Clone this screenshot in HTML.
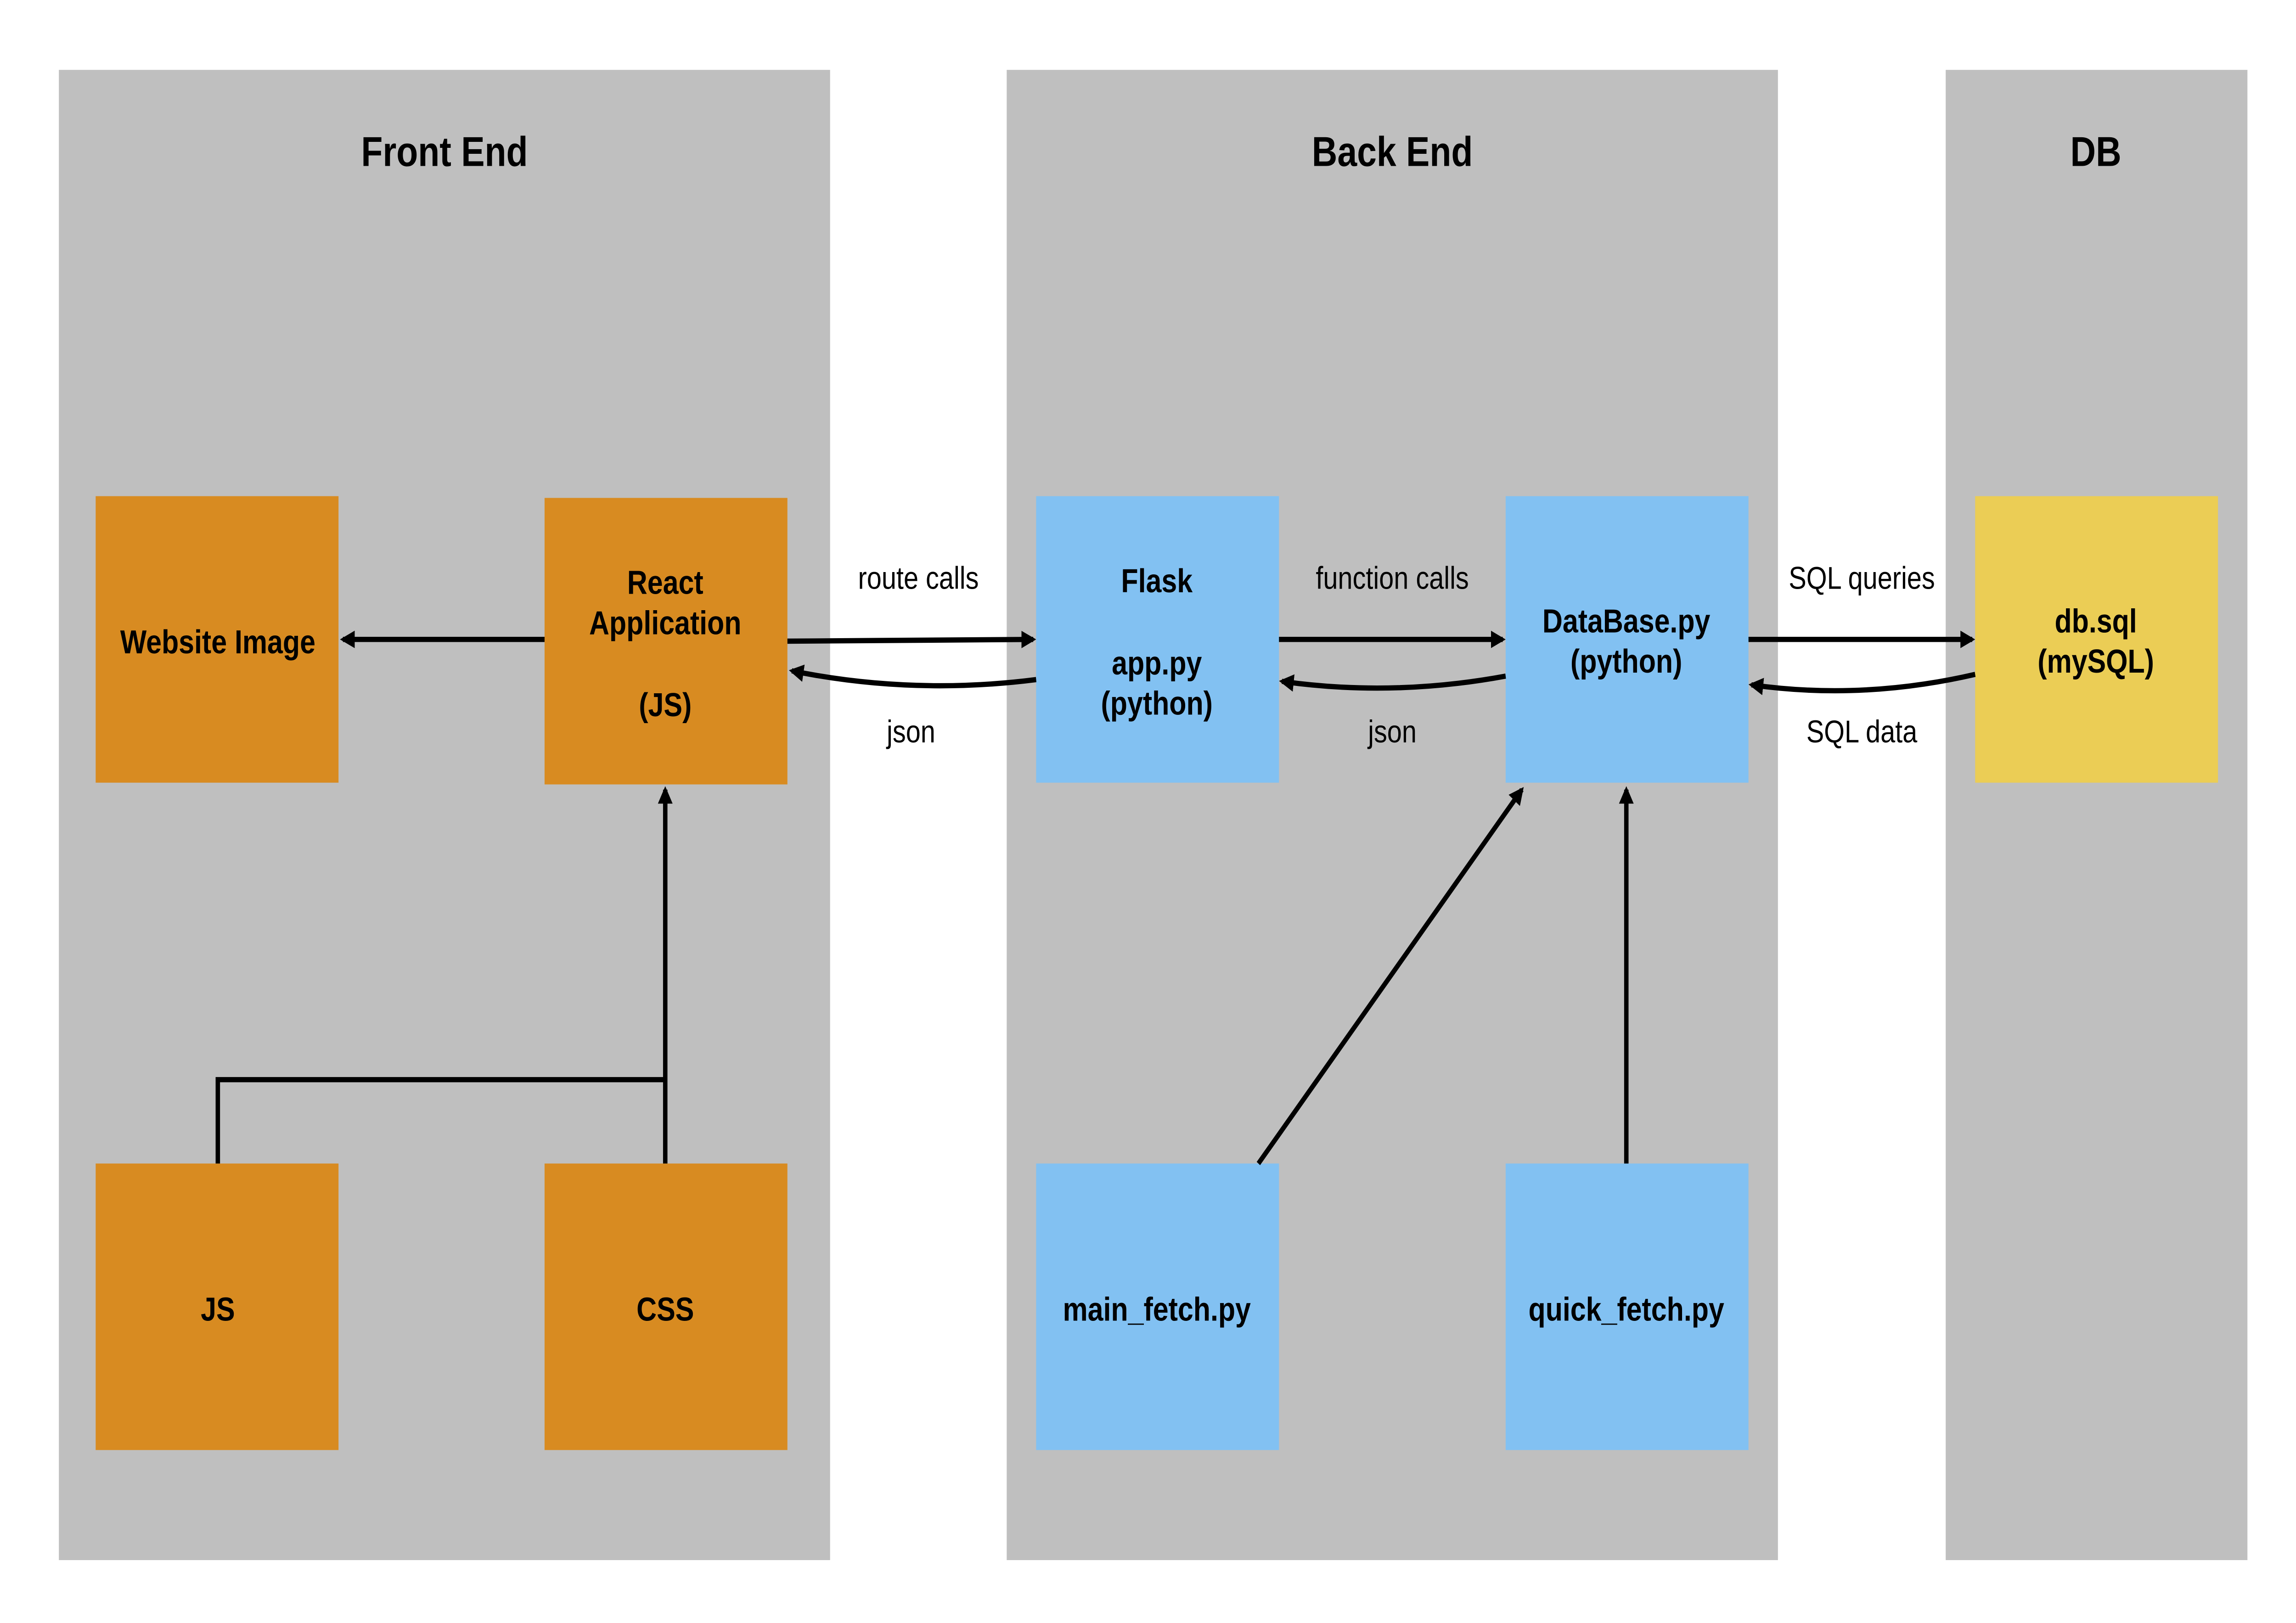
<!DOCTYPE html>
<html><head><meta charset="utf-8"><style>html,body{margin:0;padding:0;background:#fff;width:100%;height:100%;overflow:hidden}svg{display:block;position:fixed;left:0;top:0;width:100vw;height:100vh}</style></head>
<body>
<svg viewBox="0 0 1560 929" preserveAspectRatio="none" xmlns="http://www.w3.org/2000/svg" font-family="Liberation Sans, sans-serif">
<defs><marker id="a" markerWidth="10" markerHeight="10" refX="8" refY="5" orient="auto" markerUnits="userSpaceOnUse"><path d="M0,0 L10,5 L0,10 z" fill="#000"/></marker></defs>
<rect width="1560" height="929" fill="#fff"/>
<rect x="40" y="40" width="524" height="853" fill="#bfbfbf"/>
<rect x="684" y="40" width="524" height="853" fill="#bfbfbf"/>
<rect x="1322" y="40" width="205" height="853" fill="#bfbfbf"/>
<g font-weight="bold" font-size="24" text-anchor="middle">
<text x="302" y="95">Front End</text><text x="946" y="95">Back End</text><text x="1424" y="95">DB</text></g>
<g fill="#d88b21"><rect x="65" y="284" width="165" height="164"/><rect x="370" y="285" width="165" height="164"/><rect x="65" y="666" width="165" height="164"/><rect x="370" y="666" width="165" height="164"/></g>
<g fill="#82c1f2"><rect x="704" y="284" width="165" height="164"/><rect x="1023" y="284" width="165" height="164"/><rect x="704" y="666" width="165" height="164"/><rect x="1023" y="666" width="165" height="164"/></g>
<rect x="1342" y="284" width="165" height="164" fill="#ebcd55"/>
<g font-weight="bold" font-size="19" text-anchor="middle">
<text x="148" y="374">Website Image</text>
<text x="452" y="340">React</text><text x="452" y="363">Application</text><text x="452" y="410">(JS)</text>
<text x="148" y="756">JS</text><text x="452" y="756">CSS</text>
<text x="786" y="339">Flask</text><text x="786" y="386">app.py</text><text x="786" y="409">(python)</text>
<text x="1105" y="362">DataBase.py</text><text x="1105" y="385">(python)</text>
<text x="786" y="756">main_fetch.py</text><text x="1105" y="756">quick_fetch.py</text>
<text x="1424" y="362">db.sql</text><text x="1424" y="385">(mySQL)</text></g>
<g font-size="18" text-anchor="middle">
<text x="624" y="337">route calls</text><text x="619" y="425">json</text>
<text x="946" y="337">function calls</text><text x="946" y="425">json</text>
<text x="1265" y="337">SQL queries</text><text x="1265" y="425">SQL data</text></g>
<g stroke="#000" stroke-width="3" fill="none" marker-end="url(#a)">
<path d="M370,366 L233,366"/>
<path d="M535,367 L702,366"/>
<path d="M704,389 Q620,398 538,384"/>
<path d="M869,366 L1021,366"/>
<path d="M1023,387 Q946,399 871,390"/>
<path d="M1188,366 L1340,366"/>
<path d="M1342,386 Q1265,401 1190,392"/>
<path d="M452,666 L452,452"/>
<path d="M855,666 L1034,452"/>
<path d="M1105,666 L1105,452"/>
</g>
<path d="M148,666 L148,618 L452,618" stroke="#000" stroke-width="3" fill="none"/>
</svg>
</body></html>
